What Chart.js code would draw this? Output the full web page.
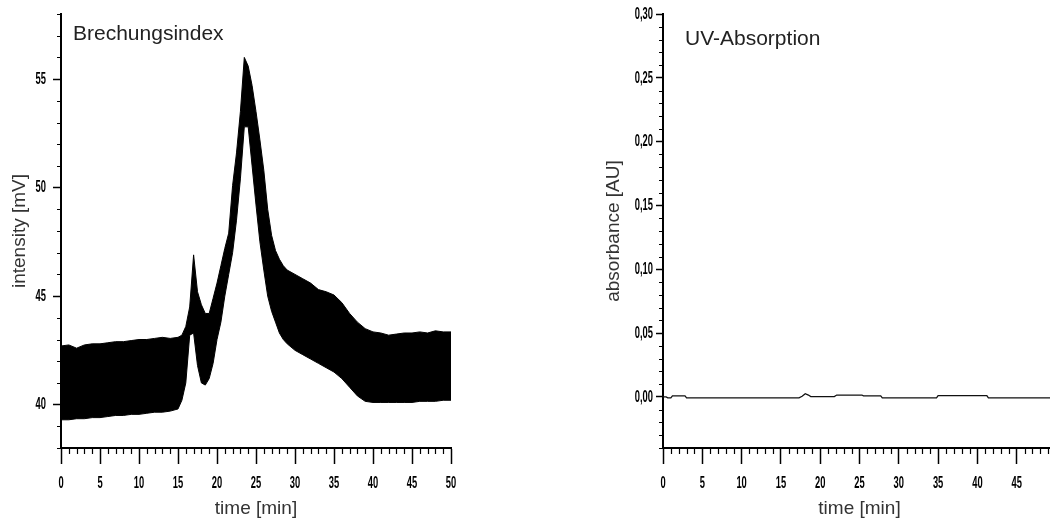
<!DOCTYPE html>
<html>
<head>
<meta charset="utf-8">
<script src="https://cdn.jsdelivr.net/npm/chart.js@4.4.1/dist/chart.umd.min.js"></script>
<style>
  html, body { margin: 0; padding: 0; background: #fff; overflow: hidden; width: 1050px; height: 520px; }
  #riChart { position: absolute; left: 0; top: 0; }
  #uvChart { position: absolute; left: 540px; top: 0; }
</style>
</head>
<body>
<canvas id="riChart" width="470" height="520"></canvas>
<canvas id="uvChart" width="540" height="520"></canvas>
<script>
// tick labels
const timeTicks = [0, 5, 10, 15, 20, 25, 30, 35, 40, 45, 50];
const riTicks = [40, 45, 50, 55];
const uvTicks = [0, 0.05, 0.10, 0.15, 0.20, 0.25, 0.30];

// refractive index detector: upper and lower edge of the noisy trace (mV)
const riTime = [0, 1, 2, 3, 4, 5, 6, 7, 8, 9, 10, 11, 12, 13, 14, 15,
  15.5, 16, 16.5, 17, 17.5, 18, 18.5, 19, 19.5, 20, 20.5, 21, 21.5, 22, 22.5, 23, 23.5,
  24, 24.5, 25, 25.5, 26, 26.5, 27, 27.5, 28, 28.5,
  29, 30, 31, 32, 33, 34, 35, 36, 37, 38, 39, 40, 41, 42, 43, 44, 45, 46, 47, 48, 49, 50];
const riUpper = [42.7, 42.75, 42.6, 42.75, 42.8, 42.8, 42.85, 42.9, 42.9, 42.95, 43.0, 43.0, 43.05, 43.1, 43.05, 43.1,
  43.2, 43.6, 44.5, 46.9, 45.2, 44.6, 44.2, 44.2, 44.9, 45.6, 46.4, 47.2, 47.9, 50.1, 51.6, 53.5, 56.0,
  55.6, 54.7, 53.5, 52.2, 50.8, 49.0, 47.8, 47.1, 46.7, 46.4,
  46.2, 46.0, 45.8, 45.6, 45.3, 45.2, 45.05, 44.7, 44.2, 43.8, 43.5, 43.35, 43.3, 43.2, 43.25, 43.3, 43.3, 43.35, 43.3, 43.4, 43.35, 43.35];
const riLower = [39.3, 39.3, 39.35, 39.35, 39.4, 39.4, 39.45, 39.5, 39.5, 39.55, 39.55, 39.6, 39.65, 39.65, 39.7, 39.8,
  40.2, 41.0, 43.2, 43.3, 41.8, 41.0, 40.9, 41.2, 41.9, 43.0, 43.8, 45.0, 46.0, 47.0, 48.5, 50.4, 52.8,
  52.8, 51.0, 49.2, 47.5, 46.2, 45.0, 44.3, 43.8, 43.3, 43.0,
  42.8, 42.5, 42.3, 42.1, 41.9, 41.7, 41.5, 41.2, 40.8, 40.4, 40.15, 40.1, 40.1, 40.1, 40.1, 40.1, 40.1, 40.15, 40.15, 40.15, 40.2, 40.2];

// UV detector (AU)
const uvTime = [0, 0.4, 0.6, 1.0, 1.2, 2.8, 3.0, 17.3, 17.7, 18.1, 18.5, 18.8, 21.8, 22.1, 25.3, 25.5, 27.7, 27.9, 34.8, 35.0, 41.2, 41.4, 50];
const uvValue = [0, 0, -0.0007, -0.0007, 0.0008, 0.0008, -0.0007, -0.0007, 0.0005, 0.0025, 0.0015, 0.0003, 0.0003, 0.0015, 0.0015, 0.0008, 0.0008, -0.0007, -0.0007, 0.001, 0.001, -0.0008, -0.0008];

const titleFont = { family: "'Liberation Sans', Arial, sans-serif", size: 19 };

// minor tick marks between the labelled ones
const minorTicks = {
  id: 'minorTicks',
  afterDraw(chart, args, opts) {
    const ctx = chart.ctx;
    const xs = chart.scales.x, ys = chart.scales.y;
    ctx.save();
    ctx.strokeStyle = '#000';
    ctx.lineWidth = 1.2;
    ctx.beginPath();
    for (let i = Math.ceil(xs.min / opts.xStep); i * opts.xStep <= xs.max + 1e-9; i++) {
      if (i % 5 === 0) continue;
      const px = Math.round(xs.getPixelForValue(i * opts.xStep)) + 0.5;
      ctx.moveTo(px, xs.top);
      ctx.lineTo(px, xs.top + opts.xLen);
    }
    for (let i = Math.ceil(ys.min / opts.yStep - 1e-9); i * opts.yStep <= ys.max + 1e-9; i++) {
      if (i % 5 === 0) continue;
      const py = Math.round(ys.getPixelForValue(i * opts.yStep)) + 0.5;
      ctx.moveTo(ys.right, py);
      ctx.lineTo(ys.right - opts.yLen, py);
    }
    ctx.stroke();
    ctx.restore();
  }
};

// tick labels in a narrow face, squeezed like the original plot software
const narrowLabels = {
  id: 'narrowLabels',
  afterDraw(chart, args, opts) {
    const ctx = chart.ctx;
    const xs = chart.scales.x, ys = chart.scales.y;
    ctx.save();
    ctx.font = "bold 17px 'Liberation Sans', Arial, sans-serif";
    ctx.fillStyle = '#000';
    ctx.textBaseline = 'middle';
    xs.ticks.forEach(t => {
      ctx.save();
      ctx.translate(xs.getPixelForValue(t.value), xs.top + opts.xDrop);
      ctx.scale(opts.squeeze, 1);
      ctx.textAlign = 'center';
      ctx.fillText(t.label, 0, 0);
      ctx.restore();
    });
    ys.ticks.forEach(t => {
      ctx.save();
      ctx.translate(ys.right - opts.yGap, ys.getPixelForValue(t.value));
      ctx.scale(opts.squeeze, 1);
      ctx.textAlign = 'right';
      ctx.fillText(t.label, 0, 0);
      ctx.restore();
    });
    ctx.restore();
  }
};

// panel caption inside the plot
const caption = {
  id: 'caption',
  afterDraw(chart, args, opts) {
    const ctx = chart.ctx;
    ctx.save();
    ctx.font = "21px 'Liberation Sans', Arial, sans-serif";
    ctx.fillStyle = '#222';
    ctx.textBaseline = 'alphabetic';
    ctx.fillText(opts.text, chart.chartArea.left + opts.dx, chart.chartArea.top + opts.dy);
    ctx.restore();
  }
};

function makeScales(cfg) {
  return {
    x: {
      type: 'linear', min: 0, max: 50,
      afterBuildTicks: s => { s.ticks = timeTicks.map(v => ({ value: v })); },
      afterFit: s => { s.height = 72; },
      grid: { drawOnChartArea: false, drawTicks: true, tickLength: 16, tickWidth: 1.5, tickColor: '#000' },
      border: { display: true, color: '#000', width: 2 },
      ticks: { display: false, callback: v => String(v) },
      title: { display: true, text: 'time [min]', color: '#333', font: titleFont, padding: 0 }
    },
    y: {
      type: 'linear', min: cfg.yMin, max: cfg.yMax,
      afterBuildTicks: s => { s.ticks = cfg.yTicks.map(v => ({ value: v })); },
      afterFit: s => { s.width = cfg.yWidth; },
      grid: { drawOnChartArea: false, drawTicks: true, tickLength: cfg.yTickLen, tickWidth: 1.5, tickColor: '#000' },
      border: { display: true, color: '#000', width: 2 },
      ticks: { display: false, callback: cfg.fmt },
      title: { display: true, text: cfg.yTitle, color: '#333', font: titleFont, padding: 0 }
    }
  };
}

new Chart(document.getElementById('riChart'), {
  type: 'line',
  data: {
    datasets: [
      { data: riTime.map((t, i) => ({ x: t, y: riUpper[i] })), borderColor: '#000', backgroundColor: '#000',
        borderWidth: 1, pointRadius: 0, tension: 0, fill: '+1' },
      { data: riTime.map((t, i) => ({ x: t, y: riLower[i] })), borderColor: '#000',
        borderWidth: 1, pointRadius: 0, tension: 0, fill: false }
    ]
  },
  options: {
    responsive: false, animation: false,
    layout: { padding: { left: 8, right: 19, top: 14, bottom: 0 } },
    plugins: {
      legend: { display: false }, tooltip: { enabled: false },
      minorTicks: { xStep: 1, xLen: 6, yStep: 1, yLen: 4 },
      narrowLabels: { xDrop: 35, yGap: 15, squeeze: 0.55 },
      caption: { text: 'Brechungsindex', dx: 12, dy: 26 }
    },
    scales: makeScales({ yMin: 38, yMax: 58, yTicks: riTicks, yWidth: 53, yTickLen: 8,
      yTitle: 'intensity [mV]', fmt: v => String(v) })
  },
  plugins: [minorTicks, narrowLabels, caption]
});

new Chart(document.getElementById('uvChart'), {
  type: 'line',
  data: {
    datasets: [
      { data: uvTime.map((t, i) => ({ x: t, y: uvValue[i] })), borderColor: '#111',
        borderWidth: 1.3, pointRadius: 0, tension: 0, fill: false }
    ]
  },
  options: {
    responsive: false, animation: false,
    layout: { padding: { left: 62, right: 24, top: 14, bottom: 0 } },
    plugins: {
      legend: { display: false }, tooltip: { enabled: false },
      minorTicks: { xStep: 1, xLen: 6, yStep: 0.01, yLen: 4 },
      narrowLabels: { xDrop: 35, yGap: 10, squeeze: 0.55 },
      caption: { text: 'UV-Absorption', dx: 22, dy: 31 }
    },
    scales: makeScales({ yMin: -0.04, yMax: 0.30, yTicks: uvTicks, yWidth: 61, yTickLen: 7,
      yTitle: 'absorbance [AU]', fmt: v => v.toFixed(2).replace('.', ',') })
  },
  plugins: [minorTicks, narrowLabels, caption]
});
</script>
</body>
</html>
